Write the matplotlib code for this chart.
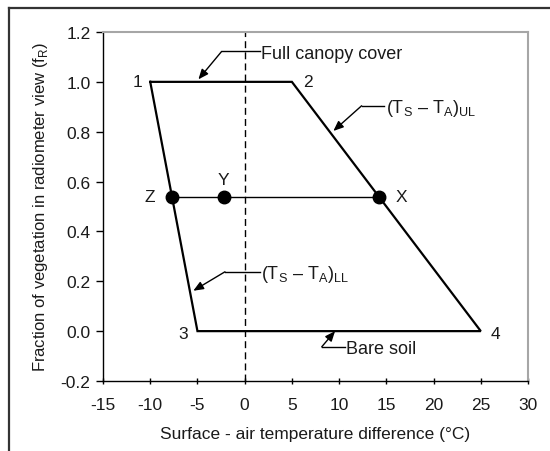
import matplotlib
matplotlib.use("Agg")
import matplotlib.pyplot as plt
from matplotlib.lines import Line2D

plt.rcParams['font.family'] = ['Liberation Sans', 'DejaVu Sans']
plt.rcParams['mathtext.fontset'] = 'custom'
plt.rcParams['mathtext.rm'] = 'Liberation Sans'

# trapezoid corners 1 -> 2 -> 4 -> 3
corner_labels = ['1', '2', '4', '3']
corner_x = [-10, 5, 25, -5]
corner_y = [1.0, 1.0, 0.0, 0.0]

# pixel on the fR = 0.54 line
point_labels = ['Z', 'Y', 'X']
point_x = [-7.7, -2.2, 14.2]
point_y = [0.54, 0.54, 0.54]

xticks = [-15, -10, -5, 0, 5, 10, 15, 20, 25, 30]
yticks = [-0.2, 0.0, 0.2, 0.4, 0.6, 0.8, 1.0, 1.2]

ink = '#1a1a1a'

fig = plt.figure(figsize=(5.5, 4.52), dpi=100)
ax = fig.add_axes([0.1873, 0.1549, 0.7727, 0.7721])

# outer frame (top and left edges only)
fig.add_artist(Line2D([8.5/550, 8.5/550], [0, 1 - 9/452], color='#333333', lw=1.6))
fig.add_artist(Line2D([8.5/550, 1], [1 - 9/452, 1 - 9/452], color='#333333', lw=1.6))

ax.plot(corner_x + corner_x[:1], corner_y + corner_y[:1], color='black', lw=1.6,
        solid_joinstyle='miter')
ax.axvline(0, color='black', lw=1.0, ls=(0, (5, 3)))
ax.plot([point_x[0], point_x[-1]], [point_y[0], point_y[-1]], color='black', lw=1.0)
ax.plot(point_x, point_y, 'o', color='black', ms=9)

# corner and point labels
corner_off = [(-1.35, 0.0), (1.7, 0.0), (1.55, -0.01), (-1.5, -0.01)]
for lab, x, y, (dx, dy) in zip(corner_labels, corner_x, corner_y, corner_off):
    ax.text(x + dx, y + dy, lab, ha='center', va='center', fontsize=12.5, color=ink)
point_off = [(-2.4, 0.0), (0.0, 0.068), (2.35, 0.0)]
for lab, x, y, (dx, dy) in zip(point_labels, point_x, point_y, point_off):
    ax.text(x + dx, y + dy, lab, ha='center', va='center', fontsize=12.5, color=ink)

# callouts: text, elbow of the leader, end of the horizontal part, arrow tip
callouts = [
    ('Full canopy cover', (-2.44, 1.122), 1.6, (-4.9, 1.01)),
    ('(T$_\\mathregular{S}$ \u2013 T$_\\mathregular{A}$)$_\\mathregular{UL}$',
     (12.38, 0.904), 14.8, (9.39, 0.803)),
    ('(T$_\\mathregular{S}$ \u2013 T$_\\mathregular{A}$)$_\\mathregular{LL}$',
     (-2.09, 0.238), 1.6, (-5.44, 0.162)),
    ('Bare soil', (8.16, -0.063), 10.6, (9.57, 0.0)),
]
for txt, (ex, ey), hx, (tx, ty) in callouts:
    ax.plot([ex, hx], [ey, ey], color='black', lw=1.0)
    ax.annotate('', xy=(tx, ty), xytext=(ex, ey),
                arrowprops=dict(arrowstyle='-|>,head_length=0.6,head_width=0.25',
                                color='black', lw=1.0, shrinkA=0, shrinkB=0))
    ax.text(hx + 0.15, ey - 0.008, txt, ha='left', va='center', fontsize=13, color=ink)

ax.set_xlim(-15, 30)
ax.set_ylim(-0.2, 1.2)
ax.set_xticks(xticks)
ax.set_yticks(yticks)
ax.set_xticklabels([str(t) for t in xticks])
ax.set_yticklabels(['%.1f' % t for t in yticks])
ax.tick_params(axis='x', direction='inout', length=5, width=1, labelsize=12.5,
               labelcolor=ink, pad=9)
ax.tick_params(axis='y', direction='out', length=5, width=1, labelsize=12.5,
               labelcolor=ink, pad=4)

for side in ['left', 'bottom']:
    ax.spines[side].set_color('black')
    ax.spines[side].set_linewidth(1.0)
for side in ['top', 'right']:
    ax.spines[side].set_color('#a6a6a6')
    ax.spines[side].set_linewidth(1.5)

ax.set_xlabel('Surface - air temperature difference (\u00b0C)', fontsize=12.5, color=ink,
              labelpad=10)
ax.set_ylabel('Fraction of vegetation in radiometer view (f$_\\mathregular{R}$)',
              fontsize=12, color=ink, labelpad=8)

fig.savefig('out.png', dpi=100)
